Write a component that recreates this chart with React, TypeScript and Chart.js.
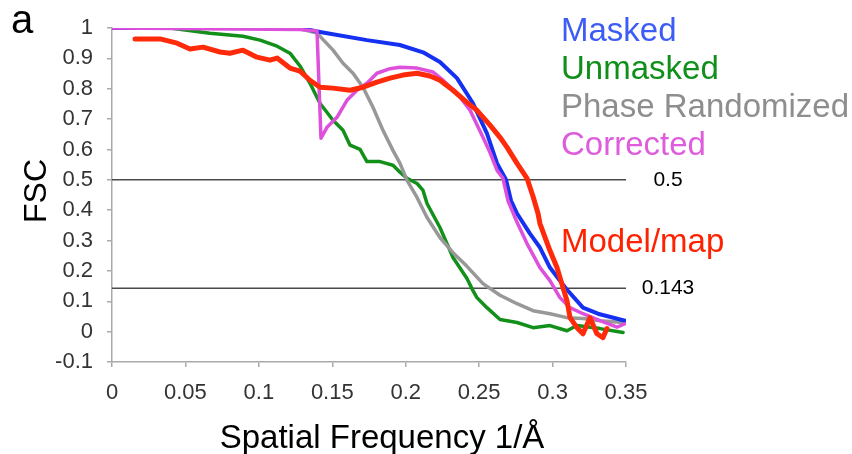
import React, { useEffect, useRef } from "react";
import { Chart, registerables } from "chart.js";

Chart.register(...registerables);

const FONT = '"Liberation Sans", Arial, Helvetica, sans-serif';

// ---- data ----
const maskedX = [0, 0.1, 0.13, 0.1416, 0.1736, 0.196, 0.2118, 0.2233, 0.2349, 0.2458, 0.2553, 0.2622, 0.2683, 0.2717, 0.2758, 0.2846, 0.2914, 0.2982, 0.3091, 0.3207, 0.3309, 0.3493];
const maskedY = [1.0, 1.0, 0.998, 0.987, 0.96, 0.944, 0.92, 0.888, 0.835, 0.752, 0.653, 0.554, 0.5, 0.432, 0.389, 0.323, 0.277, 0.211, 0.142, 0.079, 0.059, 0.036];

const unmaskedX = [0, 0.0395, 0.0667, 0.0892, 0.1008, 0.1124, 0.1212, 0.128, 0.1348, 0.1416, 0.1505, 0.1573, 0.1621, 0.1689, 0.1736, 0.1825, 0.1913, 0.1961, 0.2009, 0.2077, 0.2118, 0.2145, 0.2233, 0.2281, 0.2322, 0.2417, 0.2458, 0.2485, 0.2553, 0.2642, 0.2758, 0.2867, 0.2982, 0.3098, 0.3166, 0.3323, 0.348];
const unmaskedY = [1.0, 1.0, 0.983, 0.973, 0.96, 0.94, 0.917, 0.875, 0.818, 0.752, 0.696, 0.663, 0.614, 0.6, 0.56, 0.56, 0.548, 0.525, 0.505, 0.488, 0.465, 0.422, 0.343, 0.29, 0.244, 0.175, 0.135, 0.112, 0.079, 0.04, 0.03, 0.013, 0.02, 0.003, 0.02, 0.01, -0.003];

const phaseX = [0, 0.1212, 0.128, 0.1396, 0.1505, 0.1573, 0.1641, 0.1709, 0.1777, 0.1845, 0.1913, 0.1961, 0.2009, 0.2077, 0.2145, 0.2233, 0.2322, 0.2417, 0.2526, 0.2642, 0.2758, 0.2867, 0.2982, 0.3098, 0.3207, 0.3323, 0.348];
const phaseY = [1.0, 1.0, 0.997, 0.983, 0.927, 0.884, 0.851, 0.805, 0.739, 0.663, 0.597, 0.554, 0.498, 0.442, 0.376, 0.31, 0.26, 0.215, 0.158, 0.12, 0.092, 0.069, 0.059, 0.046, 0.043, 0.036, 0.03];

const correctedX = [0, 0.128, 0.1396, 0.1423, 0.1464, 0.1532, 0.16, 0.1668, 0.1736, 0.1804, 0.1893, 0.1961, 0.2077, 0.2186, 0.2254, 0.2349, 0.2438, 0.2526, 0.2574, 0.2622, 0.2662, 0.2696, 0.2758, 0.2826, 0.2914, 0.2982, 0.305, 0.3119, 0.3207, 0.3323, 0.3439, 0.3493];
const correctedY = [1.0, 0.995, 0.99, 0.637, 0.673, 0.706, 0.762, 0.795, 0.818, 0.851, 0.866, 0.871, 0.868, 0.855, 0.828, 0.785, 0.729, 0.64, 0.59, 0.531, 0.505, 0.432, 0.36, 0.29, 0.211, 0.168, 0.112, 0.079, 0.059, 0.036, 0.015, 0.026];

const modelX = [0.0157, 0.0327, 0.0443, 0.0531, 0.062, 0.0735, 0.0803, 0.0892, 0.0987, 0.1076, 0.1124, 0.1212, 0.128, 0.1348, 0.1416, 0.1505, 0.1621, 0.1709, 0.1804, 0.1893, 0.1981, 0.2077, 0.2165, 0.2233, 0.2322, 0.2417, 0.2485, 0.2574, 0.2642, 0.269, 0.2758, 0.2826, 0.2867, 0.2901, 0.2914, 0.2982, 0.303, 0.3071, 0.3098, 0.3119, 0.3166, 0.3207, 0.3255, 0.3302, 0.3343, 0.337];
const modelY = [0.964, 0.964, 0.95, 0.931, 0.937, 0.921, 0.917, 0.927, 0.904, 0.894, 0.901, 0.868, 0.858, 0.828, 0.805, 0.802, 0.795, 0.805, 0.822, 0.835, 0.845, 0.851, 0.842, 0.828, 0.795, 0.755, 0.729, 0.68, 0.64, 0.607, 0.554, 0.505, 0.445, 0.389, 0.356, 0.267, 0.211, 0.145, 0.102, 0.046, 0.013, -0.007, 0.046, -0.007, -0.02, 0.01];

const thresholdValues = [0.5, 0.143];
const thresholdLabels = ["0.5", "0.143"];

const xTicks = [0, 0.05, 0.1, 0.15, 0.2, 0.25, 0.3, 0.35];
const xTickLabels = ["0", "0.05", "0.1", "0.15", "0.2", "0.25", "0.3", "0.35"];
const yTicks = [-0.1, 0, 0.1, 0.2, 0.3, 0.4, 0.5, 0.6, 0.7, 0.8, 0.9, 1];
const yTickLabels = ["-0.1", "0", "0.1", "0.2", "0.3", "0.4", "0.5", "0.6", "0.7", "0.8", "0.9", "1"];

const xTitle = "Spatial Frequency 1/Å";
const yTitle = "FSC";
const panelLabel = "a";

const seriesNames = ["Masked", "Unmasked", "Phase Randomized", "Corrected", "Model/map"];
const lineColors = ["#1530f0", "#12901a", "#989898", "#dc50dc", "#ff2a0a"];
const textColors = ["#3d5cf5", "#10901a", "#8e8e8e", "#dd5ddd", "#ff2200"];

const zip = (xs: number[], ys: number[]) => xs.map((x, i) => ({ x, y: ys[i] }));

const overlayText = {
  id: "overlayText",
  afterDraw(chart: any) {
    const { ctx, chartArea, scales } = chart;
    ctx.save();
    ctx.fillStyle = "#000";
    ctx.textAlign = "left";
    ctx.textBaseline = "alphabetic";
    ctx.font = `40px ${FONT}`;
    ctx.fillText(panelLabel, 11, 33);

    // axis titles
    ctx.font = `33px ${FONT}`;
    ctx.textAlign = "center";
    ctx.fillText(xTitle, chartArea.left + 270, 448);
    ctx.save();
    ctx.translate(37, (chartArea.top + chartArea.bottom) / 2 - 4);
    ctx.rotate(-Math.PI / 2);
    ctx.textBaseline = "middle";
    ctx.font = `32px ${FONT}`;
    ctx.fillText(yTitle, 0, 0);
    ctx.restore();

    ctx.textAlign = "left";
    ctx.textBaseline = "alphabetic";
    ctx.font = `33px ${FONT}`;
    const offs = [13, 51, 89, 127, 224];
    seriesNames.forEach((name, i) => {
      ctx.fillStyle = textColors[i];
      ctx.fillText(name, chartArea.right - 65, chartArea.top + offs[i]);
    });

    ctx.font = `21px ${FONT}`;
    ctx.fillStyle = "#000";
    ctx.textAlign = "center";
    ctx.textBaseline = "middle";
    thresholdValues.forEach((v, i) => {
      ctx.fillText(thresholdLabels[i], chartArea.right + 42, scales.y.getPixelForValue(v));
    });
    ctx.restore();
  },
};

export default function App() {
  const ref = useRef<HTMLCanvasElement | null>(null);

  useEffect(() => {
    document.body.style.margin = "0";
    const canvas = ref.current;
    if (!canvas) return;
    const lineDs = (i: number, xs: number[], ys: number[], width: number) => ({
      label: seriesNames[i],
      data: zip(xs, ys),
      borderColor: lineColors[i],
      borderWidth: width,
      pointRadius: 0,
      tension: 0,
      fill: false,
      borderJoinStyle: "round" as const,
      borderCapStyle: "round" as const,
    });
    const threshDs = thresholdValues.map((v) => ({
      label: "t" + v,
      data: [
        { x: 0, y: v },
        { x: 0.35, y: v },
      ],
      borderColor: "#4a4a4a",
      borderWidth: 1.5,
      pointRadius: 0,
      fill: false,
    }));
    const chart = new Chart(canvas, {
      type: "line",
      data: {
        datasets: [
          lineDs(4, modelX, modelY, 5),
          lineDs(3, correctedX, correctedY, 3.5),
          lineDs(0, maskedX, maskedY, 4),
          lineDs(2, phaseX, phaseY, 3.5),
          lineDs(1, unmaskedX, unmaskedY, 3.5),
          ...threshDs,
        ],
      },
      plugins: [overlayText],
      options: {
        animation: false,
        responsive: false,
        maintainAspectRatio: false,
        layout: { padding: { left: 0, top: 28, right: 226, bottom: 0 } },
        plugins: { legend: { display: false }, tooltip: { enabled: false } },
        scales: {
          x: {
            type: "linear",
            min: 0,
            max: 0.35,
            afterFit: (s: any) => {
              s.height = 92;
            },
            afterBuildTicks: (s: any) => {
              s.ticks = xTicks.map((v) => ({ value: v }));
            },
            ticks: {
              color: "#333",
              font: { family: FONT, size: 22 },
              padding: 13,
              maxRotation: 0,
              callback: (_v: any, i: number) => xTickLabels[i],
            },
            grid: { drawOnChartArea: false, drawTicks: true, tickLength: 5, color: "#aaa", lineWidth: 1.5 },
            border: { display: true, color: "#aaa", width: 1.5 },
            title: { display: false },
          },
          y: {
            type: "linear",
            min: -0.1,
            max: 1,
            afterFit: (s: any) => {
              s.width = 112;
            },
            afterBuildTicks: (s: any) => {
              s.ticks = yTicks.map((v) => ({ value: v }));
            },
            ticks: {
              color: "#333",
              font: { family: FONT, size: 22 },
              padding: 14,
              callback: (_v: any, i: number) => yTickLabels[i],
            },
            grid: { drawOnChartArea: false, drawTicks: true, tickLength: 5, color: "#aaa", lineWidth: 1.5 },
            border: { display: true, color: "#aaa", width: 1.5 },
            title: { display: false },
          },
        },
      },
    });
    return () => chart.destroy();
  }, []);

  return (
    <div style={{ position: "absolute", left: 0, top: 0, width: 852, height: 454, background: "#fff" }}>
      <canvas ref={ref} width={852} height={454} />
    </div>
  );
}
